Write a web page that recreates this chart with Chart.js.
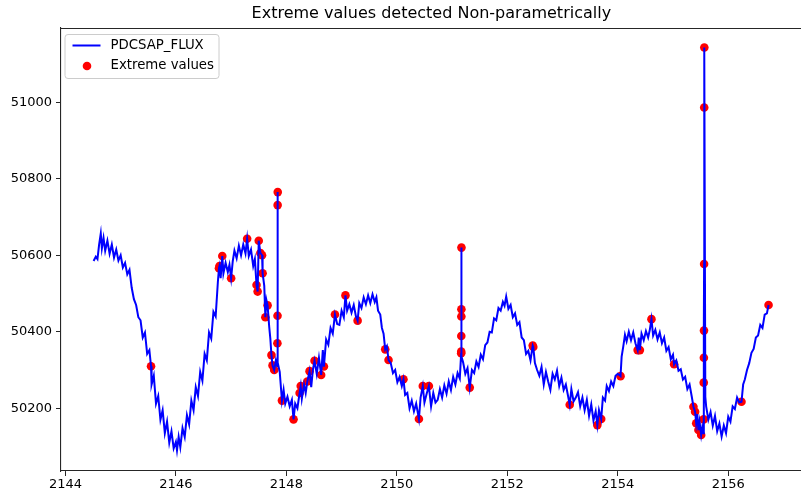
<!DOCTYPE html>
<html>
<head>
<meta charset="utf-8">
<script src="https://cdn.jsdelivr.net/npm/chart.js@4/dist/chart.umd.min.js"></script>
<style>
  html, body { margin: 0; padding: 0; background: #fff; overflow: hidden; }
  canvas { display: block; }
</style>
</head>
<body>
<canvas id="c" width="806" height="493"></canvas>
<script>
// Light curve: time (BTJD) and PDCSAP flux
const time = [
  2144.51,2144.55,2144.58,2144.61,2144.64,2144.66,2144.69,2144.72,2144.76,2144.80,
  2144.84,2144.88,2144.92,2144.96,2145.00,2145.04,2145.08,2145.12,2145.16,2145.20,
  2145.24,2145.28,2145.32,2145.36,2145.40,2145.44,2145.48,2145.52,2145.55,2145.56,
  2145.60,2145.64,2145.68,2145.72,2145.76,2145.80,2145.84,2145.88,2145.92,2145.96,
  2146.00,2146.02,2146.05,2146.08,2146.12,2146.16,2146.20,2146.24,2146.28,2146.32,
  2146.36,2146.40,2146.44,2146.48,2146.52,2146.56,2146.60,2146.64,2146.68,2146.72,
  2146.76,2146.78,2146.79,2146.81,2146.84,2146.86,2146.90,2146.94,2146.97,2147.00,
  2147.03,2147.06,2147.10,2147.14,2147.18,2147.22,2147.26,2147.29,2147.32,2147.36,
  2147.40,2147.43,2147.46,2147.48,2147.50,2147.53,2147.56,2147.57,2147.60,2147.62,
  2147.64,2147.66,2147.69,2147.71,2147.73,2147.75,2147.78,2147.81,2147.835,2147.838,
  2147.840,2147.842,2147.844,2147.848,2147.88,2147.92,2147.95,2147.98,2148.02,2148.06,
  2148.10,2148.13,2148.16,2148.20,2148.24,2148.26,2148.28,2148.32,2148.35,2148.38,
  2148.42,2148.45,2148.48,2148.51,2148.55,2148.59,2148.63,2148.66,2148.68,2148.72,
  2148.76,2148.80,2148.84,2148.88,2148.92,2148.96,2149.00,2149.04,2149.07,2149.10,
  2149.14,2149.18,2149.22,2149.26,2149.29,2149.32,2149.36,2149.40,2149.44,2149.48,
  2149.52,2149.56,2149.60,2149.63,2149.66,2149.70,2149.73,2149.76,2149.79,2149.82,
  2149.85,2149.89,2149.93,2149.97,2150.01,2150.05,2150.09,2150.12,2150.15,2150.19,
  2150.23,2150.27,2150.31,2150.35,2150.40,2150.43,2150.47,2150.50,2150.54,2150.58,
  2150.62,2150.66,2150.70,2150.74,2150.78,2150.82,2150.86,2150.90,2150.94,2150.98,
  2151.02,2151.06,2151.10,2151.14,2151.165,2151.166,2151.167,2151.168,2151.169,2151.170,
  2151.178,2151.20,2151.24,2151.28,2151.32,2151.36,2151.40,2151.44,2151.48,2151.52,
  2151.56,2151.60,2151.64,2151.68,2151.72,2151.76,2151.80,2151.84,2151.88,2151.92,
  2151.95,2151.98,2152.02,2152.06,2152.10,2152.14,2152.18,2152.22,2152.26,2152.30,
  2152.34,2152.38,2152.42,2152.46,2152.47,2152.50,2152.54,2152.58,2152.62,2152.66,
  2152.70,2152.74,2152.78,2152.82,2152.86,2152.90,2152.94,2152.98,2153.02,2153.06,
  2153.10,2153.13,2153.16,2153.20,2153.24,2153.28,2153.32,2153.36,2153.40,2153.44,
  2153.48,2153.52,2153.56,2153.60,2153.63,2153.66,2153.70,2153.73,2153.77,2153.80,
  2153.84,2153.88,2153.92,2153.96,2154.00,2154.05,2154.07,2154.10,2154.13,2154.16,
  2154.20,2154.24,2154.28,2154.32,2154.36,2154.38,2154.40,2154.43,2154.47,2154.51,
  2154.55,2154.58,2154.61,2154.64,2154.68,2154.72,2154.76,2154.80,2154.84,2154.88,
  2154.92,2154.96,2155.00,2155.02,2155.06,2155.10,2155.14,2155.18,2155.22,2155.26,
  2155.30,2155.34,2155.37,2155.40,2155.42,2155.44,2155.46,2155.48,2155.51,2155.53,
  2155.550,2155.555,2155.557,2155.559,2155.561,2155.563,2155.565,2155.567,2155.585,2155.60,
  2155.64,2155.68,2155.72,2155.76,2155.80,2155.84,2155.88,2155.92,2155.96,2156.00,
  2156.04,2156.08,2156.12,2156.16,2156.20,2156.24,2156.27,2156.30,2156.34,2156.38,
  2156.42,2156.46,2156.50,2156.54,2156.58,2156.62,2156.66,2156.70,2156.73
];
const flux = [
  50585,50596,50590,50628,50657,50618,50645,50612,50638,50604,
  50628,50594,50615,50586,50600,50568,50580,50550,50562,50515,
  50485,50470,50438,50430,50385,50398,50342,50352,50310,50262,
  50285,50212,50232,50170,50195,50135,50165,50110,50140,50095,
  50112,50090,50125,50098,50148,50125,50182,50158,50220,50195,
  50255,50232,50295,50272,50342,50325,50398,50382,50452,50440,
  50530,50566,50572,50540,50598,50552,50580,50556,50575,50540,
  50585,50612,50592,50625,50600,50628,50605,50643,50598,50615,
  50572,50590,50522,50505,50638,50606,50600,50553,50520,50438,
  50482,50469,50412,50382,50339,50312,50300,50325,50310,50370,
  50442,50731,50765,50320,50295,50220,50248,50212,50230,50205,
  50222,50171,50212,50200,50240,50258,50225,50262,50240,50270,
  50297,50255,50300,50324,50290,50332,50287,50352,50309,50380,
  50366,50410,50395,50445,50420,50418,50455,50438,50495,50455,
  50472,50450,50470,50440,50429,50475,50462,50490,50472,50495,
  50475,50498,50478,50490,50455,50445,50410,50395,50354,50362,
  50326,50318,50292,50300,50268,50282,50258,50276,50235,50240,
  50200,50220,50192,50212,50172,50228,50258,50215,50238,50258,
  50205,50240,50215,50222,50250,50228,50260,50238,50270,50248,
  50282,50262,50292,50278,50344,50348,50389,50440,50459,50620,
  50335,50320,50290,50305,50254,50300,50292,50322,50308,50340,
  50328,50365,50372,50400,50398,50435,50430,50462,50455,50478,
  50468,50492,50460,50470,50438,50448,50418,50425,50385,50378,
  50342,50350,50325,50364,50360,50318,50300,50285,50308,50262,
  50295,50270,50248,50290,50275,50298,50258,50280,50248,50262,
  50232,50209,50250,50218,50228,50242,50205,50228,50195,50222,
  50180,50210,50168,50192,50156,50195,50172,50228,50220,50258,
  50245,50270,50258,50285,50290,50284,50335,50362,50392,50375,
  50400,50378,50398,50370,50352,50385,50352,50395,50378,50402,
  50385,50405,50433,50390,50405,50380,50398,50370,50385,50350,
  50360,50328,50340,50315,50325,50298,50302,50275,50282,50250,
  50262,50230,50204,50191,50161,50185,50143,50165,50130,50150,
  50135,50171,50267,50332,50403,50577,50986,51143,50230,50205,
  50170,50190,50155,50180,50140,50160,50126,50155,50135,50178,
  50165,50205,50198,50228,50215,50217,50262,50275,50300,50318,
  50345,50355,50385,50390,50418,50410,50445,50448,50470
];

// Points flagged as extreme values
const extremeTime = [
  2145.55,2146.78,2146.79,2146.84,2147.00,2147.29,2147.46,2147.48,2147.50,2147.53,
  2147.56,2147.57,2147.62,2147.66,2147.73,2147.75,2147.78,2147.838,2147.840,2147.842,
  2147.844,2147.92,2148.13,2148.24,2148.26,2148.38,2148.42,2148.51,2148.63,2148.68,
  2148.88,2149.07,2149.29,2149.79,2149.85,2150.12,2150.40,2150.47,2150.58,2151.165,
  2151.166,2151.167,2151.168,2151.169,2151.170,2151.32,2152.46,2152.47,2153.13,2153.63,
  2153.70,2154.05,2154.36,2154.40,2154.61,2155.02,2155.37,2155.40,2155.42,2155.46,
  2155.51,2155.555,2155.557,2155.559,2155.561,2155.563,2155.565,2155.567,2156.24,2156.73
];
const extremeFlux = [
  50310,50566,50572,50598,50540,50643,50522,50505,50638,50606,
  50600,50553,50438,50469,50339,50312,50300,50370,50442,50731,
  50765,50220,50171,50240,50258,50270,50297,50324,50287,50309,
  50445,50495,50429,50354,50326,50276,50172,50258,50258,50344,
  50348,50389,50440,50459,50620,50254,50364,50360,50209,50156,
  50172,50284,50352,50352,50433,50315,50204,50191,50161,50143,
  50130,50171,50267,50332,50403,50577,50986,51143,50217,50470
];

const xTicks = [2144, 2146, 2148, 2150, 2152, 2154, 2156];
const yTicks = [50200, 50400, 50600, 50800, 51000];

const seriesNames = ['PDCSAP_FLUX', 'Extreme values'];
const titleText = 'Extreme values detected Non-parametrically';

const FONT = 'DejaVu Sans';
const LINE_BLUE = '#0000ff';
const POINT_RED = '#ff0000';
const SPINE = '#262626';

// Title centred over the plot area, plus the top spine
const frameTop = {
  id: 'frameTop',
  afterDatasetsDraw(chart) {
    const { ctx, chartArea: a } = chart;
    ctx.save();
    ctx.strokeStyle = SPINE;
    ctx.lineWidth = 1.1;
    ctx.beginPath();
    ctx.moveTo(a.left, a.top + 0.5);
    ctx.lineTo(a.right + 2, a.top + 0.5);
    ctx.stroke();

    ctx.fillStyle = '#000';
    ctx.font = '16px "' + FONT + '"';
    ctx.textAlign = 'center';
    ctx.textBaseline = 'middle';
    ctx.fillText(titleText, (a.left + a.right) / 2, 14);
    ctx.restore();
  }
};

// Legend box in the upper-left corner of the plot area
const cornerLegend = {
  id: 'cornerLegend',
  afterDraw(chart) {
    const { ctx, chartArea: a } = chart;
    const x0 = a.left + 3.5, y0 = a.top + 6;
    const w = 154, h = 44, r = 3;
    ctx.save();
    ctx.fillStyle = 'rgba(255,255,255,0.8)';
    ctx.strokeStyle = '#cccccc';
    ctx.lineWidth = 1;
    ctx.beginPath();
    ctx.roundRect(x0 + 0.5, y0 + 0.5, w, h, r);
    ctx.fill();
    ctx.stroke();

    const ds = chart.data.datasets;
    // line sample
    ctx.strokeStyle = ds[0].borderColor;
    ctx.lineWidth = 2;
    ctx.beginPath();
    ctx.moveTo(x0 + 8, y0 + 11.5);
    ctx.lineTo(x0 + 36, y0 + 11.5);
    ctx.stroke();
    // marker sample
    ctx.fillStyle = ds[1].backgroundColor;
    ctx.beginPath();
    ctx.arc(x0 + 22.5, y0 + 32, 4.3, 0, Math.PI * 2);
    ctx.fill();

    ctx.fillStyle = '#000';
    ctx.font = '13.3px "' + FONT + '"';
    ctx.textBaseline = 'middle';
    ctx.textAlign = 'left';
    ctx.fillText(ds[0].label, x0 + 46, y0 + 11.5);
    ctx.fillText(ds[1].label, x0 + 46, y0 + 32);
    ctx.restore();
  }
};

new Chart(document.getElementById('c'), {
  type: 'scatter',
  data: {
    datasets: [
      {
        label: seriesNames[0],
        data: time.map((t, i) => ({ x: t, y: flux[i] })),
        showLine: true,
        borderColor: LINE_BLUE,
        backgroundColor: LINE_BLUE,
        borderWidth: 2,
        pointRadius: 0,
        pointHoverRadius: 0,
        tension: 0,
        order: 0
      },
      {
        label: seriesNames[1],
        data: extremeTime.map((t, i) => ({ x: t, y: extremeFlux[i] })),
        showLine: false,
        backgroundColor: POINT_RED,
        borderColor: POINT_RED,
        borderWidth: 0,
        pointRadius: 4.3,
        order: 1
      }
    ]
  },
  options: {
    responsive: false,
    devicePixelRatio: 1,
    animation: false,
    events: [],
    layout: { padding: { left: 0, right: 0, top: 28, bottom: 0 } },
    plugins: {
      legend: { display: false },
      tooltip: { enabled: false },
      title: { display: false }
    },
    scales: {
      x: {
        type: 'linear',
        min: 2143.92,
        max: 2157.33,
        afterBuildTicks: s => { s.ticks = xTicks.map(v => ({ value: v })); },
        afterFit: s => { s.height = 22; },
        grid: { drawOnChartArea: false, drawTicks: true, tickLength: 5, tickColor: SPINE, tickWidth: 1 },
        border: { display: true, color: SPINE, width: 1.1 },
        ticks: {
          color: '#000',
          font: { family: FONT, size: 13 },
          padding: 1,
          maxRotation: 0,
          autoSkip: false,
          callback: v => String(v)
        }
      },
      y: {
        type: 'linear',
        min: 50036,
        max: 51194,
        afterBuildTicks: s => { s.ticks = yTicks.map(v => ({ value: v })); },
        afterFit: s => { s.width = 61; },
        grid: { drawOnChartArea: false, drawTicks: true, tickLength: 5, tickColor: SPINE, tickWidth: 1 },
        border: { display: true, color: SPINE, width: 1.1 },
        ticks: {
          color: '#000',
          font: { family: FONT, size: 13 },
          padding: 4,
          autoSkip: false,
          callback: v => String(v)
        }
      }
    }
  },
  plugins: [frameTop, cornerLegend]
});
</script>
</body>
</html>
